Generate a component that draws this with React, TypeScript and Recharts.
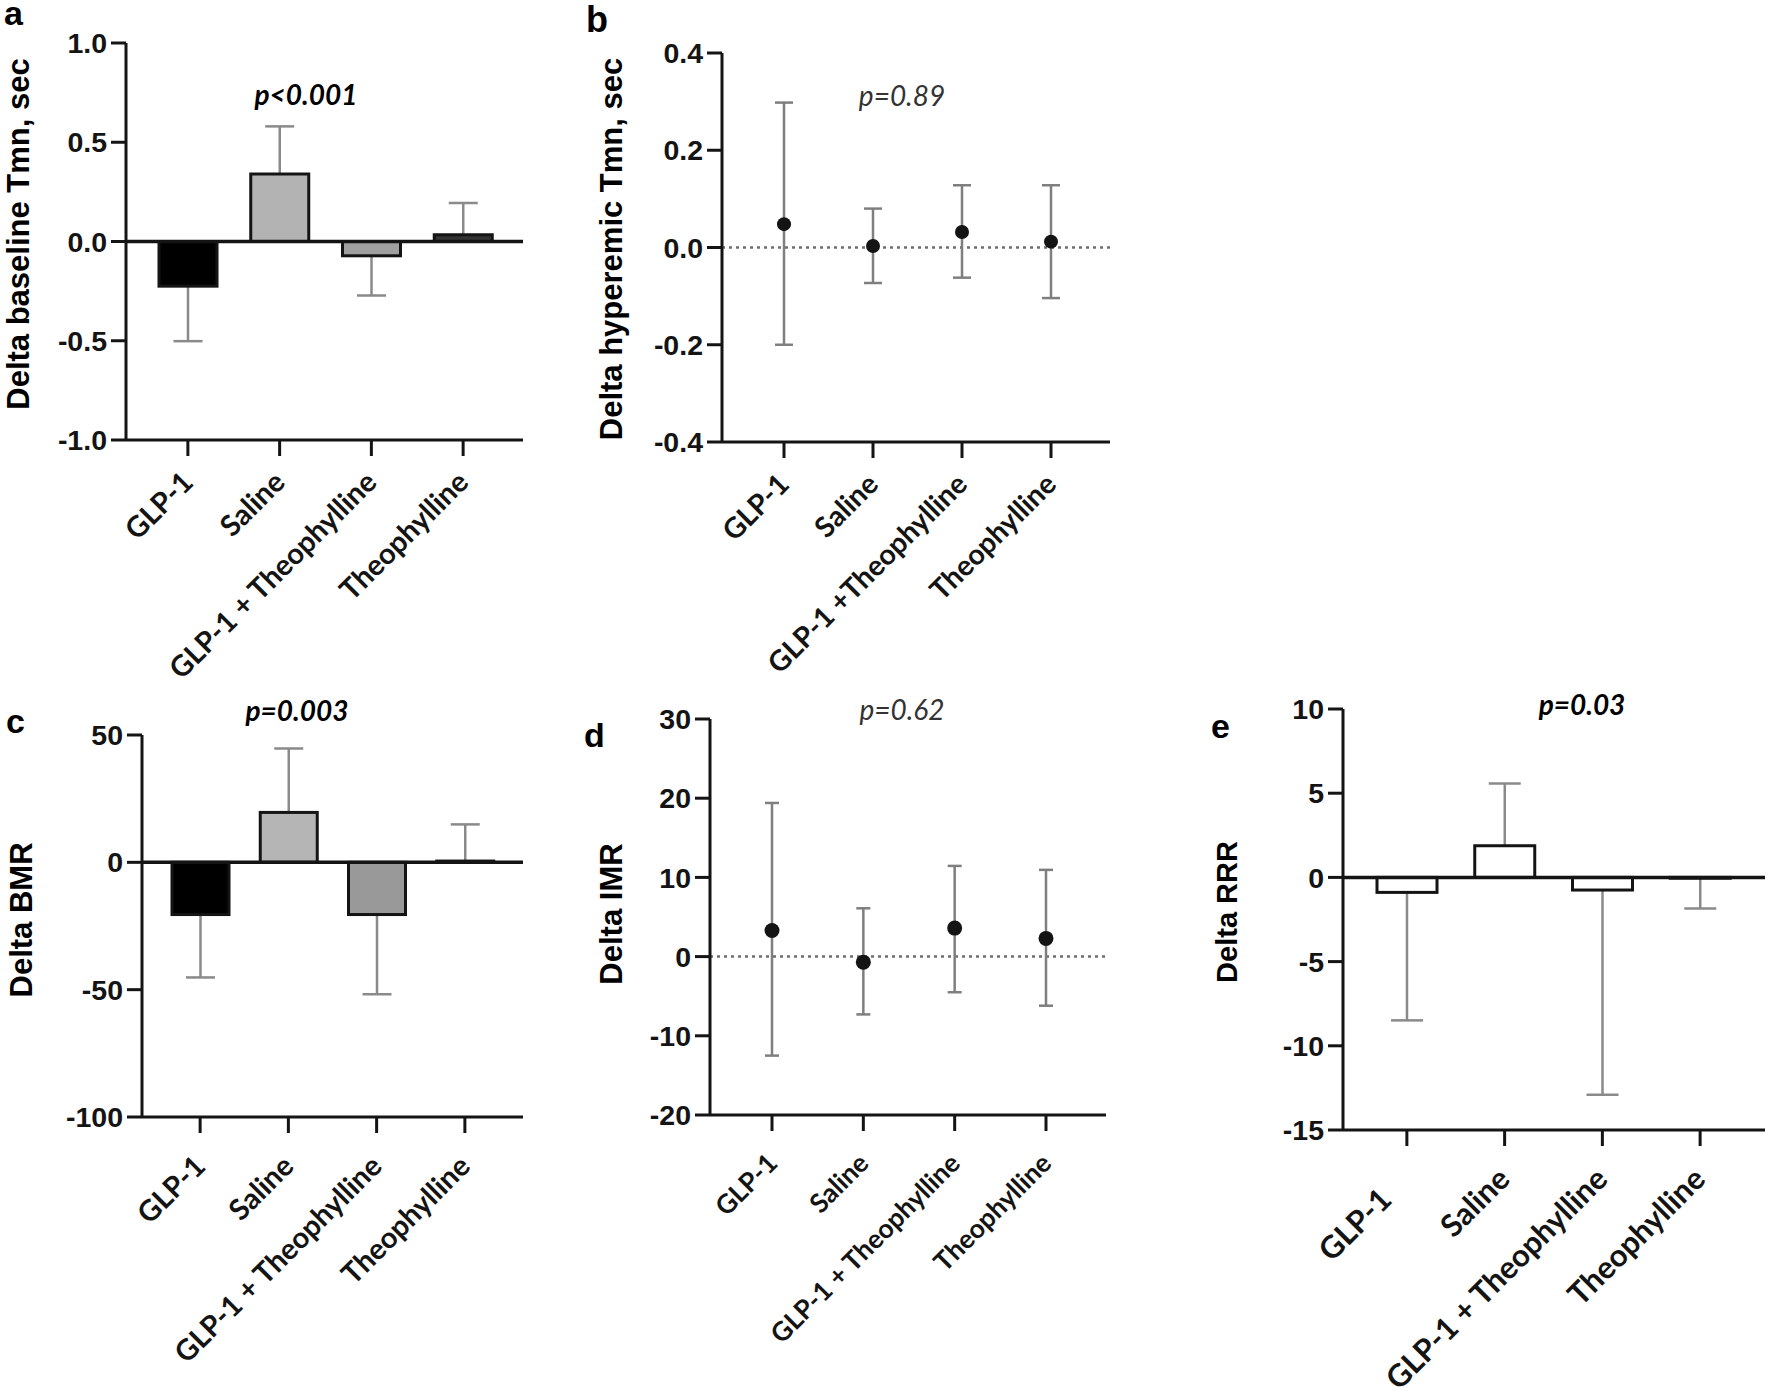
import React from 'react';
import { ComposedChart, Bar, Line, XAxis, YAxis, ReferenceLine, ErrorBar, Cell } from 'recharts';

// ---------- data ----------
const categories = ['GLP-1', 'Saline', 'GLP-1 + Theophylline', 'Theophylline'];
const categoriesB = ['GLP-1', 'Saline', 'GLP-1 +Theophylline', 'Theophylline'];

// a: Delta baseline Tmn (mean, one-sided SD)
const baselineTmnMean = [-0.225, 0.34, -0.072, 0.034];
const baselineTmnErr = [0.277, 0.24, 0.2, 0.16];
// b: Delta hyperemic Tmn (mean, lower, upper)
const hyperTmnMean = [0.048, 0.003, 0.032, 0.012];
const hyperTmnLow = [-0.2, -0.073, -0.062, -0.104];
const hyperTmnHigh = [0.298, 0.08, 0.128, 0.128];
// c: Delta BMR
const bmrMean = [-20.5, 19.6, -20.5, 0.5];
const bmrErr = [24.7, 25.1, 31.3, 14.4];
// d: Delta IMR
const imrMean = [3.3, -0.7, 3.6, 2.3];
const imrLow = [-12.5, -7.3, -4.5, -6.2];
const imrHigh = [19.4, 6.1, 11.45, 10.95];
// e: Delta RRR
const rrrMean = [-0.89, 1.88, -0.75, -0.05];
const rrrErr = [7.6, 3.7, 12.15, 1.8];

const ticksA = [-1, -0.5, 0, 0.5, 1];
const ticksB = [-0.4, -0.2, 0, 0.2, 0.4];
const ticksC = [-100, -50, 0, 50];
const ticksD = [-20, -10, 0, 10, 20, 30];
const ticksE = [-15, -10, -5, 0, 5, 10];

const pValues = ['p<0.001', 'p=0.89', 'p=0.003', 'p=0.62', 'p=0.03'];
const yTitles = ['Delta baseline Tmn, sec', 'Delta hyperemic Tmn, sec', 'Delta BMR', 'Delta IMR', 'Delta RRR'];
const panelLetters = ['a', 'b', 'c', 'd', 'e'];

// ---------- derived tables ----------
const barTable = (names: string[], mean: number[], err: number[]) =>
  names.map((name, i) => ({ name, v: mean[i], err: err[i] }));
const dotTable = (names: string[], mean: number[], low: number[], high: number[]) =>
  names.map((name, i) => ({ name, v: mean[i], e: [mean[i] - low[i], high[i] - mean[i]] }));

const dataA = barTable(categories, baselineTmnMean, baselineTmnErr);
const dataB = dotTable(categoriesB, hyperTmnMean, hyperTmnLow, hyperTmnHigh);
const dataC = barTable(categories, bmrMean, bmrErr);
const dataD = dotTable(categories, imrMean, imrLow, imrHigh);
const dataE = barTable(categories, rrrMean, rrrErr);

// ---------- styles ----------
const INK = '#141414';
const ERR = '#8a8a8a';
const ARIAL = '"Liberation Sans", Arial, sans-serif';
const LATO = 'Lato, "Open Sans", sans-serif';
const YW = 110;
const MT = 24;
const XH = 290;
const MR = 12;

const fillsA = ['#000000', '#b3b3b3', '#a0a0a0', '#333333'];
const fillsC = ['#000000', '#b5b5b5', '#999999', '#ffffff'];
const fillsE = ['#ffffff', '#ffffff', '#ffffff', '#ffffff'];

type Geom = { axisX: number; yTop: number; yBot: number; xEnd: number; padL: number; padR: number };

// bar panels use a band scale; dot panels use a point scale (padding to first/last point)
const geomA: Geom = { axisX: 126, yTop: 43, yBot: 440, xEnd: 523, padL: 16, padR: 14 };
const geomB: Geom = { axisX: 722, yTop: 53, yBot: 442, xEnd: 1110, padL: 62, padR: 59 };
const geomC: Geom = { axisX: 142, yTop: 735, yBot: 1117, xEnd: 523, padL: 14, padR: 14 };
const geomD: Geom = { axisX: 710, yTop: 719, yBot: 1115, xEnd: 1106, padL: 62, padR: 60 };
const geomE: Geom = { axisX: 1343, yTop: 709, yBot: 1130, xEnd: 1765, padL: 15, padR: 16 };

function CatTick(props: any) {
  const { x, y, payload, fontSize, shift, drop } = props;
  const idx = props.index ?? payload?.index ?? 0;
  const s = (shift && shift[idx]) || 0;
  const d = s * Math.SQRT1_2;
  return (
    <text
      transform={`translate(${x + 7 - d},${y + drop + d}) rotate(-45)`}
      textAnchor="end"
      fontSize={fontSize}
      fontWeight={700}
      fontFamily={LATO}
      fill={INK}
    >
      {payload.value}
    </text>
  );
}

const barShape = (capW: number) => (props: any) => {
  const { x, y, width, height, fill, payload } = props;
  const top = Math.min(y, y + height);
  const h = Math.abs(height);
  const v = payload.v;
  const ppu = h / Math.abs(v);
  const cx = x + width / 2;
  const base = v >= 0 ? top : top + h;
  const end = v >= 0 ? top - payload.err * ppu : top + h + payload.err * ppu;
  return (
    <g>
      <line x1={cx} x2={cx} y1={base} y2={end} stroke={ERR} strokeWidth={2.5} />
      <line x1={cx - capW / 2} x2={cx + capW / 2} y1={end} y2={end} stroke={ERR} strokeWidth={2.5} />
      <rect x={x} y={top} width={width} height={h} fill={fill} stroke={INK} strokeWidth={3} />
    </g>
  );
};

function Panel(props: {
  g: Geom;
  data: any[];
  domain: [number, number];
  ticks: number[];
  fmt: (v: number) => string;
  catFont: number;
  catDrop: number;
  catShift?: Record<number, number>;
  children: React.ReactNode;
}) {
  const { g, data, domain, ticks, fmt, catFont, catDrop, catShift, children } = props;
  const left = g.axisX - YW;
  const top = g.yTop - MT;
  const width = g.xEnd - left + MR;
  const height = g.yBot - top + XH;
  return (
    <div style={{ position: 'absolute', left, top }}>
      <ComposedChart width={width} height={height} data={data} margin={{ top: MT, right: MR, bottom: 0, left: 0 }}>
        <XAxis
          dataKey="name"
          type="category"
          interval={0}
          height={XH}
          padding={{ left: g.padL, right: g.padR }}
          axisLine={{ stroke: INK, strokeWidth: 3 }}
          tickLine={{ stroke: INK, strokeWidth: 3 }}
          tickSize={16}
          tickMargin={0}
          tick={(p: any) => <CatTick {...p} fontSize={catFont} shift={catShift} drop={catDrop} />}
        />
        <YAxis
          type="number"
          domain={domain}
          ticks={ticks}
          interval={0}
          width={YW}
          allowDataOverflow
          axisLine={{ stroke: INK, strokeWidth: 3 }}
          tickLine={{ stroke: INK, strokeWidth: 3 }}
          tickSize={15}
          tickMargin={4}
          tickFormatter={fmt}
          tick={{ fontSize: 28.5, fontWeight: 700, fill: INK, fontFamily: ARIAL }}
        />
        {children}
      </ComposedChart>
    </div>
  );
}

const fmt1 = (v: number) => v.toFixed(1);
const fmt0 = (v: number) => String(v);

export default function App() {
  const letterPos = [
    [4, 25, 34],
    [586, 32, 36],
    [6, 733, 34],
    [584, 747, 34],
    [1211, 738, 34],
  ];
  const pPos = [
    [306, 105, true],
    [902, 106, false],
    [297, 721, true],
    [902, 720, false],
    [1582, 715, true],
  ] as [number, number, boolean][];
  const titlePos = [
    [18, 234, 31],
    [611, 249, 31],
    [21, 920, 31],
    [611, 914, 31],
    [1227, 912, 29],
  ];
  return (
    <div
      style={{
        position: 'absolute',
        left: 0,
        top: 0,
        width: 1770,
        height: 1395,
        background: '#ffffff',
        overflow: 'hidden',
      }}
    >
      <Panel g={geomA} data={dataA} domain={[-1, 1]} ticks={ticksA} fmt={fmt1} catFont={29} catDrop={28}>
        <ReferenceLine y={0} stroke={INK} strokeWidth={3.5} />
        <Bar dataKey="v" barSize={58} isAnimationActive={false} shape={barShape(29)}>
          {fillsA.map((f, i) => (
            <Cell key={i} fill={f} />
          ))}
        </Bar>
      </Panel>

      <Panel g={geomB} data={dataB} domain={[-0.4, 0.4]} ticks={ticksB} fmt={fmt1} catFont={28.5} catDrop={28}>
        <ReferenceLine y={0} stroke="#6f6f6f" strokeWidth={2.5} strokeDasharray="3 4" />
        <Line
          dataKey="v"
          stroke="none"
          isAnimationActive={false}
          dot={{ r: 7, fill: INK, stroke: 'none' }}
          activeDot={false}
        >
          <ErrorBar dataKey="e" width={9} stroke="#7f7f7f" strokeWidth={2.5} direction="y" />
        </Line>
      </Panel>

      <Panel g={geomC} data={dataC} domain={[-100, 50]} ticks={ticksC} fmt={fmt0} catFont={29} catDrop={35}>
        <ReferenceLine y={0} stroke={INK} strokeWidth={3.5} />
        <Bar dataKey="v" barSize={57} isAnimationActive={false} shape={barShape(29)}>
          {fillsC.map((f, i) => (
            <Cell key={i} fill={f} />
          ))}
        </Bar>
      </Panel>

      <Panel g={geomD} data={dataD} domain={[-20, 30]} ticks={ticksD} fmt={fmt0} catFont={26.5} catDrop={34}>
        <ReferenceLine y={0} stroke="#6f6f6f" strokeWidth={2.5} strokeDasharray="3 4" />
        <Line
          dataKey="v"
          stroke="none"
          isAnimationActive={false}
          dot={{ r: 7.5, fill: INK, stroke: 'none' }}
          activeDot={false}
        >
          <ErrorBar dataKey="e" width={7} stroke="#7f7f7f" strokeWidth={2.5} direction="y" />
        </Line>
      </Panel>

      <Panel
        g={geomE}
        data={dataE}
        domain={[-15, 10]}
        ticks={ticksE}
        fmt={fmt0}
        catFont={31}
        catDrop={35}
        catShift={{ 0: 29 }}
      >
        <ReferenceLine y={0} stroke={INK} strokeWidth={3.5} />
        <Bar dataKey="v" barSize={60} isAnimationActive={false} shape={barShape(32)}>
          {fillsE.map((f, i) => (
            <Cell key={i} fill={f} />
          ))}
        </Bar>
      </Panel>

      <svg
        width={1770}
        height={1395}
        style={{ position: 'absolute', left: 0, top: 0, pointerEvents: 'none' }}
      >
        {panelLetters.map((l, i) => (
          <text
            key={l}
            x={letterPos[i][0]}
            y={letterPos[i][1]}
            fontSize={letterPos[i][2]}
            fontWeight={700}
            fontFamily={ARIAL}
            fill="#000"
          >
            {l}
          </text>
        ))}
        {pValues.map((p, i) => (
          <text
            key={p}
            x={pPos[i][0]}
            y={pPos[i][1]}
            textAnchor="middle"
            fontSize={28}
            fontStyle="italic"
            fontWeight={pPos[i][2] ? 700 : 400}
            fontFamily={LATO}
            fill={pPos[i][2] ? '#000' : '#333'}
          >
            {p}
          </text>
        ))}
        {yTitles.map((t, i) => (
          <text
            key={t}
            transform={`translate(${titlePos[i][0]},${titlePos[i][1]}) rotate(-90)`}
            textAnchor="middle"
            dominantBaseline="central"
            fontSize={titlePos[i][2]}
            fontWeight={700}
            fontFamily={ARIAL}
            fill="#000"
          >
            {t}
          </text>
        ))}
      </svg>
    </div>
  );
}
